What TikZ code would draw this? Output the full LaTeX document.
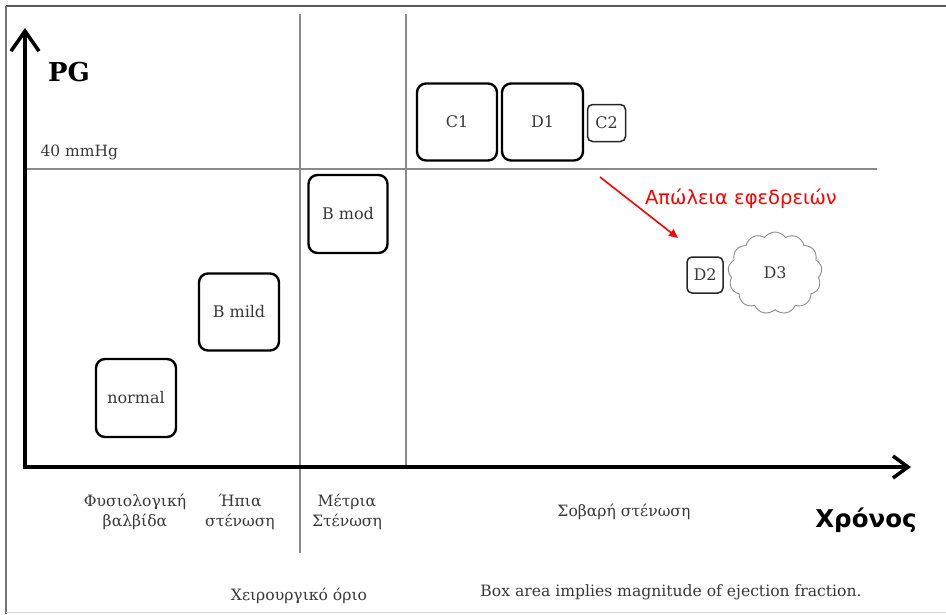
\documentclass[tikz,border=0pt]{standalone}
\usepackage{fontspec}
\setmainfont{DejaVu Serif}
\newfontfamily\sansgr{DejaVu Sans}
\usetikzlibrary{arrows.meta,shapes.symbols}
\definecolor{txt}{HTML}{383838}
\definecolor{grid}{HTML}{8A8A8A}
\tikzset{
  bx/.style={draw=black,line width=2.4pt,rounded corners=9pt,inner sep=0pt,text=txt,font=\fontsize{16}{18}\selectfont},
  bxs/.style={draw=black!85,line width=1.5pt,rounded corners=5pt,inner sep=0pt,text=txt,font=\fontsize{16}{18}\selectfont},
  gridline/.style={draw=grid,line width=1.1pt},
  axis/.style={draw=black,line width=3.6pt},
  lbl/.style={text=txt,align=center,font=\fontsize{15.6}{19.5}\selectfont},
}
\begin{document}
\begin{tikzpicture}[x=1pt,y=-1pt]
\useasboundingbox (0,0) rectangle (946,614);
% outer frame
\draw[draw=black!65,line width=2pt] (946,6) -- (6,6);
\draw[draw=black!55,line width=1.4pt] (6,6) -- (6,614);
\draw[draw=black!15,line width=1.2pt] (6,612.5) -- (946,612.5);
% grid lines
\draw[gridline] (300,14) -- (300,553);
\draw[gridline] (406,14) -- (406,466);
\draw[gridline] (27,169) -- (877,169);
% axes
\coordinate (o) at (25,467);
\coordinate (ytop) at (25,28);
\coordinate (xend) at (911,467);
\draw[axis,-{Straight Barb[length=20pt,width=28pt,line width=3.6pt]}] ([yshift=-1.8pt]o) -- (ytop);
\draw[axis,-{Straight Barb[length=15pt,width=22pt,line width=3.6pt]}] ([xshift=-1.8pt]o) -- (xend);
% axis labels
\node[font=\bfseries\fontsize{26}{30}\selectfont] (pg) at (69,72) {PG};
\node[font=\sansgr\bfseries\fontsize{24.5}{28}\selectfont] (time) at (866,520) {Χρόνος};
\node[text=txt,font=\fontsize{15.5}{17}\selectfont,anchor=west] (mmhg) at (37,152) {40 mmHg};
% boxes
\node[bx,minimum width=80pt,minimum height=78pt] (normal) at (136,398) {normal};
\node[bx,minimum width=80pt,minimum height=77pt] (bmild) at (239,312) {B mild};
\node[bx,minimum width=79pt,minimum height=78pt] (bmod) at (348,214) {B mod};
\node[bx,minimum width=80pt,minimum height=77pt] (c1) at (457,122) {C1};
\node[bx,minimum width=81pt,minimum height=77pt] (d1) at (542.5,122) {D1};
\node[bxs,minimum width=38pt,minimum height=37pt] (c2) at (606.5,123) {C2};
\node[bxs,minimum width=36pt,minimum height=36pt] (d2) at (705,275) {D2};
\node[cloud,cloud puffs=13,cloud puff arc=110,aspect=1.15,draw=black!45,line width=0.9pt,minimum width=94pt,minimum height=82pt,inner sep=0pt,text=txt,font=\fontsize{16}{18}\selectfont] (d3) at (775,273) {D3};
% red arrow
\coordinate (rs) at (600,177);
\coordinate (re) at (678,238);
\draw[red,line width=1.6pt,-{Triangle[length=9pt,width=8pt]}] (rs) -- (re);
\node[red,font=\sansgr\fontsize{19.5}{22}\selectfont] (loss) at (741,199) {Απώλεια εφεδρειών};
% category labels
\node[lbl] (cat1) at (135,512) {Φυσιολογική\\βαλβίδα};
\node[lbl] (cat2) at (240,512) {Ήπια\\στένωση};
\node[lbl] (cat3) at (347,512) {Μέτρια\\Στένωση};
\node[lbl] (cat4) at (624,512) {Σοβαρή στένωση};
\node[lbl] (surg) at (299,596) {Χειρουργικό όριο};
\node[lbl] (note) at (671,592) {Box area implies magnitude of ejection fraction.};
\end{tikzpicture}
\end{document}
